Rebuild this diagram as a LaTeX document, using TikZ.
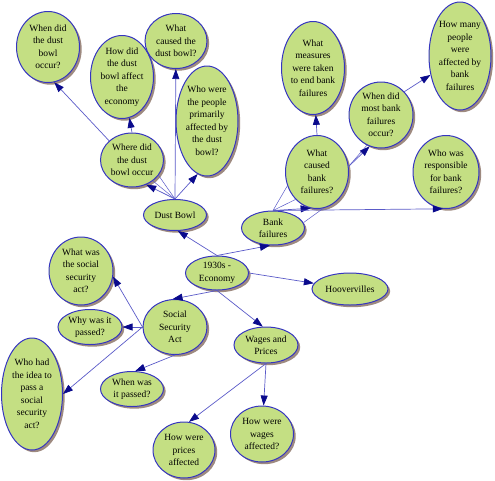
\documentclass[tikz,border=0pt]{standalone}
\usepackage{fontspec}
\setmainfont{Liberation Serif}
\usetikzlibrary{shapes.geometric,arrows.meta,shadows}
\definecolor{nodefill}{HTML}{C4DF83}
\definecolor{nodeborder}{HTML}{3535C0}
\definecolor{linec}{HTML}{5A5AC8}
\definecolor{tipc}{HTML}{0A0A8C}
\definecolor{shadowc}{HTML}{9E8A80}
\tikzset{
  ell/.style={ellipse, draw=nodeborder, line width=1pt, fill=nodefill, inner sep=0pt,
    drop shadow={shadow xshift=2.2pt, shadow yshift=-2.2pt, fill=shadowc, opacity=1}},
  lbl/.style={align=center, inner sep=0pt, font=\fontsize{9.5}{12.5}\selectfont},
  link/.style={draw=linec, line width=0.7pt, -{Triangle[length=10pt,width=7pt,color=tipc]}},
  fan/.style={draw=linec, line width=0.5pt},
}
\newcommand{\ellnode}[6]{%
  \node[ell, minimum width=#4pt, minimum height=#5pt,
        label={[lbl]center:{#6}}] (#1) at (#2,#3) {};}
\begin{document}
\begin{tikzpicture}[x=1pt,y=-1pt]
\useasboundingbox (0,0) rectangle (495,480);
% nodes
\ellnode{wd1}{48}{47}{63}{71}{When did\\the dust\\bowl\\occur?}
\ellnode{hd}{122}{77}{63}{83}{How did\\the dust\\bowl affect\\the\\economy}
\ellnode{wcd}{176}{41}{62}{55}{What\\caused the\\dust bowl?}
\ellnode{who}{207}{121}{62}{110}{Who were\\the people\\primarily\\affected by\\the dust\\bowl?}
\ellnode{where}{132}{160}{63}{54}{Where did\\the dust\\bowl occur}
\ellnode{dust}{175}{215}{63}{31}{Dust Bowl}
\ellnode{econ}{217}{273}{63}{34}{1930s -\\Economy}
\ellnode{bank}{273}{228}{63}{34}{Bank\\failures}
\ellnode{wcb}{317}{172}{63}{73}{What\\caused\\bank\\failures?}
\ellnode{meas}{313}{68}{63}{93}{What\\measures\\were taken\\to end bank\\failures}
\ellnode{wdm}{381}{115}{64}{66}{When did\\most bank\\failures\\occur?}
\ellnode{hm}{460}{56}{62}{108}{How many\\people\\were\\affected by\\bank\\failures}
\ellnode{resp}{446}{172}{66}{73}{Who was\\responsible\\for bank\\failures?}
\ellnode{hoov}{350}{289}{76}{32}{Hoovervilles}
\ellnode{wages}{266}{345}{64}{36}{Wages and\\Prices}
\ellnode{wa}{262}{434}{63}{56}{How were\\wages\\affected?}
\ellnode{prices}{184}{450}{62}{56}{How were\\prices\\affected}
\ellnode{wp}{132}{389}{63}{35}{When was\\it passed?}
\ellnode{ssa}{175}{327}{64}{55}{Social\\Security\\Act}
\ellnode{why}{90}{327}{64}{35}{Why was it\\passed?}
\ellnode{wwa}{81}{271}{64}{68}{What was\\the social\\security\\act?}
\ellnode{whohad}{32}{394}{61}{112}{Who had\\the idea to\\pass a\\social\\security\\act?}
% fan lines
\draw[fan] (dust.north) -- (where.-45);
\draw[fan] (dust.north) -- (where.-30);
\draw[fan] (bank.north) -- (wcb.205);
\draw[fan] (bank.north) -- (wcb.232);
\draw[fan] (wcb.-80) -- (bank.10);
\draw[fan] (wcb.10) -- (wdm.245);
% links
\draw[link] (econ.north) -- (dust.-80);
\draw[link] (econ.north) -- (bank.-100);
\draw[link] (econ.east) -- (hoov);
\draw[link] (econ.south) -- (ssa.95);
\draw[link] (econ.south) -- (wages.100);
\draw[link] (wages.south) -- (wa);
\draw[link] (wages.south) -- (prices.80);
\draw[link] (ssa.west) -- (why);
\draw[link] (ssa.west) -- (wwa.-10);
\draw[link] (ssa.west) -- (whohad.east);
\draw[link] (ssa.south) -- (wp.80);
\draw[link] (dust.north) -- (where.-60);
\draw[link] (dust.north) -- (wcd);
\draw[link] (dust.north) -- (who.-100);
\draw[link] (where.140) -- (wd1.-80);
\draw[link] (where.north) -- (hd);
\draw[link] (bank.north) -- (wcb.-100);
\draw[link] (bank.north) -- (resp.-95);
\draw[link] (wcb.north) -- (meas);
\draw[link] (wcb.10) -- (wdm.-110);
\draw[link] (wdm.45) -- (hm);
\end{tikzpicture}
\end{document}
